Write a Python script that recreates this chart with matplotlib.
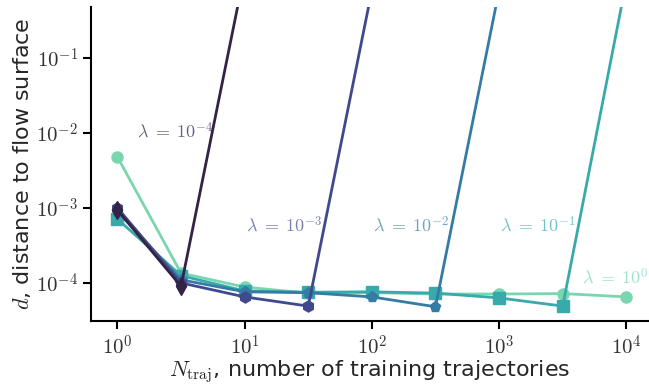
import matplotlib
matplotlib.use("Agg")
import matplotlib.pyplot as plt
from matplotlib.ticker import FixedLocator, FuncFormatter
import seaborn as sns
import numpy as np

sns.set_style("ticks")
plt.rcParams['font.family'] = ['DejaVu Sans']
plt.rcParams['mathtext.fontset'] = 'cm'

# data
n_traj = [1, 3.162, 10, 31.62, 100, 316.2, 1000, 3162, 10000]
lambdas = ["$\\lambda\\;=\\;10^{-4}$", "$\\lambda\\;=\\;10^{-3}$", "$\\lambda\\;=\\;10^{-2}$",
           "$\\lambda\\;=\\;10^{-1}$", "$\\lambda\\;=\\;10^{0}$"]
d_lam_m4 = [9.4e-4, 9.0e-5, 1.4]
d_lam_m3 = [1.0e-3, 1.0e-4, 6.5e-5, 4.9e-5, 0.8]
d_lam_m2 = [9.0e-4, 1.1e-4, 7.6e-5, 7.4e-5, 6.5e-5, 4.8e-5, 0.8]
d_lam_m1 = [7.1e-4, 1.25e-4, 7.8e-5, 7.5e-5, 7.6e-5, 7.3e-5, 6.3e-5, 4.9e-5, 1.05]
d_lam_0 = [4.8e-3, 1.35e-4, 8.8e-5, 7.3e-5, 7.4e-5, 7.1e-5, 7.1e-5, 7.2e-5, 6.5e-5]
series = [d_lam_m4, d_lam_m3, d_lam_m2, d_lam_m1, d_lam_0]
markers = ["d", "h", "p", "s", "o"]
label_x = [2.86, 20.3, 203, 2028, 8190]
label_y = [1.07e-2, 5.9e-4, 5.9e-4, 5.9e-4, 1.2e-4]
xticks = [1, 10, 100, 1000, 10000]
yticks = [1e-4, 1e-3, 1e-2, 1e-1]

colors = sns.color_palette("mako", 5)

fig = plt.figure(figsize=(6.49, 3.92), dpi=100)
ax = fig.add_axes([91/649, 1-321/392, 1-91/649-0.001, (321-7)/392])

for i in reversed(range(5)):
    ys = series[i]
    xs = n_traj[:len(ys)]
    ax.plot(xs, ys, marker=markers[i], color=colors[i], lw=2,
            ms=9 if markers[i] == "d" else 8, zorder=2 + (4 - i))
    ax.text(label_x[i], label_y[i], lambdas[i], color=colors[i], alpha=0.7,
            fontsize=13, ha="center", va="center")

ax.set_xscale("log")
ax.set_yscale("log")
ax.set_xlim(0.62, 14900)
ax.set_ylim(3.1e-5, 0.48)
ax.minorticks_off()
ax.xaxis.set_major_locator(FixedLocator(xticks))
ax.yaxis.set_major_locator(FixedLocator(yticks))
fmt = FuncFormatter(lambda v, p: "$10^{%d}$" % int(round(np.log10(v))))
ax.xaxis.set_major_formatter(fmt)
ax.yaxis.set_major_formatter(fmt)
ax.tick_params(axis="both", which="major", labelsize=15, length=6, width=1.5, colors="black")
ax.tick_params(axis="both", labelcolor="#333333")
for s in ["left", "bottom"]:
    ax.spines[s].set_linewidth(1.5)
    ax.spines[s].set_color("black")
sns.despine(ax=ax)
ax.set_xlabel("$N_{\\mathrm{traj}}$, number of training trajectories", fontsize=16, labelpad=0)
ax.set_ylabel("$d$, distance to flow surface", fontsize=16, labelpad=2)

fig.savefig("out.png", dpi=100)
